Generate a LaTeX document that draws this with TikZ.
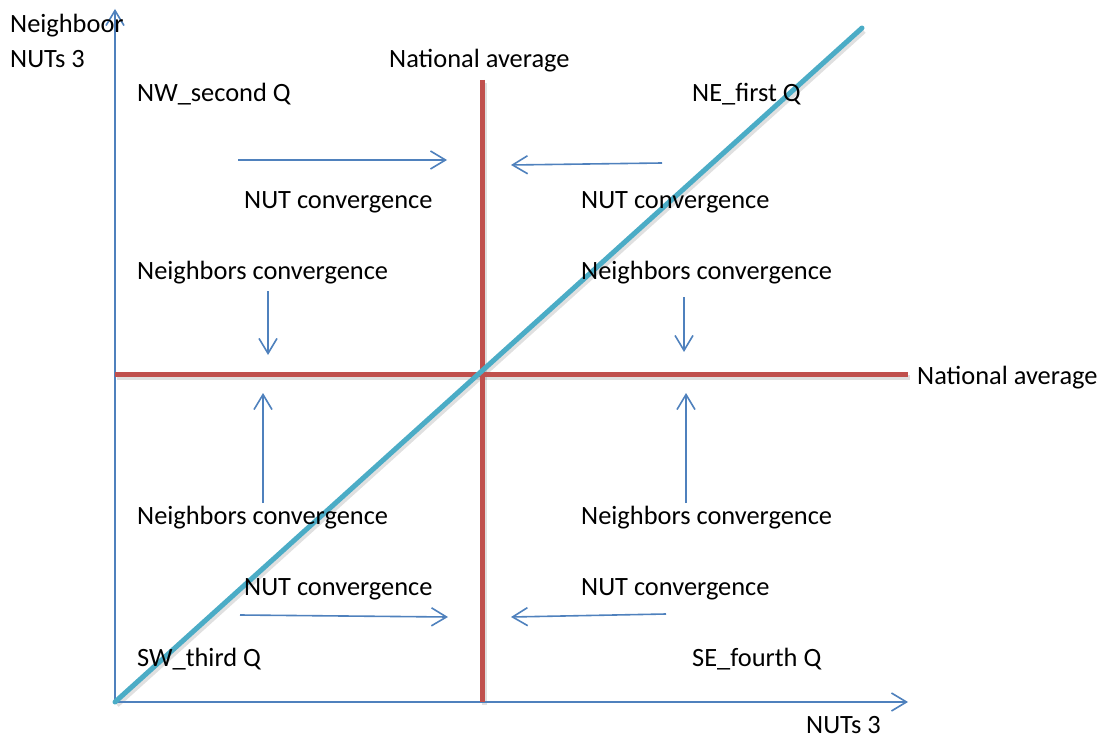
\documentclass[tikz,border=0pt]{standalone}
\usepackage{fontspec}
\setmainfont{Carlito}
\usetikzlibrary{arrows.meta}
\definecolor{axblue}{HTML}{4F81BD}
\definecolor{natred}{HTML}{C0504D}
\definecolor{diagblue}{HTML}{4BACC6}
\tikzset{
  lbl/.style={anchor=base west, inner sep=0pt, font=\fontsize{26.4}{30}\selectfont},
  axisline/.style={draw=axblue, line width=1.6pt, -{Straight Barb[length=15pt,width=18pt,line width=1.6pt]}},
  conv/.style={draw=axblue, line width=1.6pt, -{Straight Barb[length=15pt,width=18pt,line width=1.6pt]}},
  natline/.style={draw=natred, line width=5pt},
  diagline/.style={draw=diagblue, line width=5pt, line cap=round},
  shadowline/.style={draw=black, opacity=0.12, line width=5pt},
}
\begin{document}
\begin{tikzpicture}[x=1pt,y=-1pt]
\useasboundingbox (0,0) rectangle (1105,738);
% coordinates
\coordinate (O) at (115,702);
\coordinate (Ytop) at (115,9);
\coordinate (Xend) at (908,702);
\coordinate (Vtop) at (482,80);
\coordinate (Vbot) at (482,702);
\coordinate (Hl) at (115,374);
\coordinate (Hr) at (908,374);
\coordinate (Dtop) at (862,28);
% shadows
\draw[shadowline] ([shift={(2,3)}]Vtop) -- ([shift={(2,3)}]Vbot);
\draw[shadowline] ([shift={(2,3)}]Hl) -- ([shift={(2,3)}]Hr);
\draw[shadowline] ([shift={(2,3)}]O) -- ([shift={(2,3)}]Dtop);
% axes
\draw[axisline] (O) -- (Ytop);
\draw[axisline] (O) -- (Xend);
% national average lines
\draw[natline] (Vtop) -- (Vbot);
\draw[natline] (Hl) -- (Hr);
% diagonal
\draw[diagline] (O) -- (Dtop);
% convergence arrows
\coordinate (a1s) at (238,160); \coordinate (a1e) at (447,160);
\coordinate (a2s) at (662,163); \coordinate (a2e) at (511,165);
\coordinate (a3s) at (268,291); \coordinate (a3e) at (268,355);
\coordinate (a4s) at (684,297); \coordinate (a4e) at (684,352);
\coordinate (a5s) at (263,503); \coordinate (a5e) at (263,393);
\coordinate (a6s) at (686,503); \coordinate (a6e) at (686,393);
\coordinate (a7s) at (240,615); \coordinate (a7e) at (448,617);
\coordinate (a8s) at (666,614); \coordinate (a8e) at (511,617);
\draw[conv] (a1s) -- (a1e);
\draw[conv] (a2s) -- (a2e);
\draw[conv] (a3s) -- (a3e);
\draw[conv] (a4s) -- (a4e);
\draw[conv] (a5s) -- (a5e);
\draw[conv] (a6s) -- (a6e);
\draw[conv] (a7s) -- (a7e);
\draw[conv] (a8s) -- (a8e);
% labels
\node[lbl] (ylab1) at (10,33) {Neighboor};
\node[lbl] (ylab2) at (10,68) {NUTs 3};
\node[lbl] (natTop) at (389,68) {National average};
\node[lbl] (natRight) at (917,384) {National average};
\node[lbl] (xlab) at (806,733) {NUTs 3};
\node[lbl] (nw) at (137,102) {NW\_second Q};
\node[lbl] (ne) at (692,102) {NE\_first Q};
\node[lbl] (sw) at (137,666) {SW\_third Q};
\node[lbl] (se) at (692,666) {SE\_fourth Q};
\node[lbl] (nut1) at (244,208) {NUT convergence};
\node[lbl] (nut2) at (581,208) {NUT convergence};
\node[lbl] (nut3) at (244,595) {NUT convergence};
\node[lbl] (nut4) at (581,595) {NUT convergence};
\node[lbl] (nb1) at (137,279) {Neighbors convergence};
\node[lbl] (nb2) at (581,279) {Neighbors convergence};
\node[lbl] (nb3) at (137,524) {Neighbors convergence};
\node[lbl] (nb4) at (581,524) {Neighbors convergence};
\end{tikzpicture}
\end{document}
